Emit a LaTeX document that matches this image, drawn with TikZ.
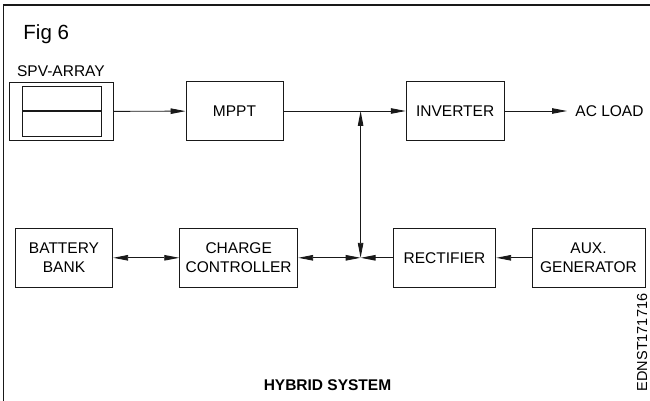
\documentclass[tikz,border=0pt]{standalone}
\usepackage{fontspec}
\setmainfont{Liberation Sans}
\usetikzlibrary{arrows.meta}
\begin{document}
\begin{tikzpicture}[x=1pt,y=-1pt, line width=0.9pt, draw=black!90,
  txt/.style={font=\fontsize{15.5}{18.7}\selectfont},
  box/.style={draw, txt, inner sep=0pt, align=center, minimum height=59pt},
  arr/.style={-{Triangle[length=15pt,width=5.5pt]}},
  darr/.style={{Triangle[length=15pt,width=5.5pt]}-{Triangle[length=15pt,width=5.5pt]}}]
\useasboundingbox (0,0) rectangle (650,401);
% frame (cropped)
\draw[line width=1.3pt] (3.3,401) -- (3.3,5) -- (650,5);
% titles
\node[anchor=base west, inner sep=0pt, font=\fontsize{20.5}{24}\selectfont] (fig) at (23,39.3) {Fig 6};
\node[anchor=base west, inner sep=0pt, txt] (spvlabel) at (16.7,77) {SPV-ARRAY};
\node[anchor=base, inner sep=0pt, font=\fontsize{15.5}{18}\selectfont\bfseries] (title) at (327.5,390) {HYBRID SYSTEM};
\node[anchor=base, rotate=90, inner sep=0pt, font=\fontsize{14.5}{17}\selectfont] (code) at (647,342.5) {EDNST171716};
% SPV array
\node[draw, minimum width=104pt, minimum height=58pt, inner sep=0pt] (spv) at (61,111.5) {};
\draw (22.3,86.7) rectangle (101.7,136);
\draw[line width=1.8pt] (22.3,111) -- (101.7,111);
% top row
\node[box, minimum width=97pt] (mppt) at (234.5,111) {MPPT};
\node[box, minimum width=98pt] (inv) at (455.2,111) {INVERTER};
\node[anchor=west, inner sep=0pt, inner xsep=8pt, txt] (acload) at (567,111) {AC LOAD};
% bottom row
\node[box, minimum width=97.4pt] (bat) at (64,257.8) {BATTERY\\BANK};
\node[box, minimum width=118pt] (cc) at (238.7,257.8) {CHARGE\\CONTROLLER};
\node[box, minimum width=102.4pt] (rect) at (444.5,257.8) {RECTIFIER};
\node[box, minimum width=113pt] (aux) at (588.5,257.8) {AUX.\\GENERATOR};
% junctions
\coordinate (jt) at (360.6,111);
\coordinate (jb) at (360.6,257.8);
% connectors
\draw[arr] (spv) -- (mppt);
\draw (mppt) -- (jt);
\draw[arr] (jt) -- (inv);
\draw[arr] (inv) -- (acload.west);
\draw[darr] (jt) -- (jb);
\draw[darr] (bat) -- (cc);
\draw[darr] (cc) -- (jb);
\draw[arr] (rect) -- (jb);
\draw[arr] (aux) -- (rect);
\end{tikzpicture}
\end{document}
